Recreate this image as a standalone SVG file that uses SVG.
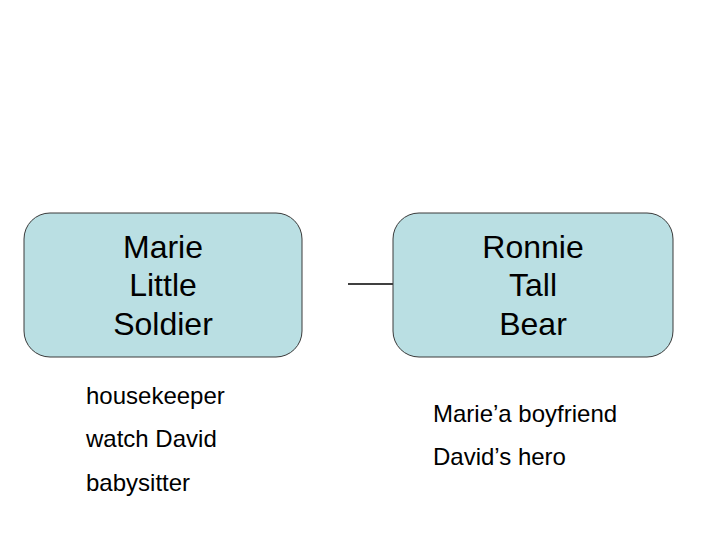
<svg xmlns="http://www.w3.org/2000/svg" width="720" height="540" viewBox="0 0 720 540">
<style>
.box{fill:#BADFE3;stroke:#3a3a3a;stroke-width:1}
.t{font-family:"Liberation Sans",Arial,sans-serif;fill:#000}
.big{font-size:32px;text-anchor:middle}
.small{font-size:24px}
.conn{stroke:#000;stroke-width:1.5;fill:none}
</style>
<rect width="720" height="540" fill="#fff"/>
<g id="connectors">
<line class="conn" x1="348" y1="284" x2="393" y2="284"/>
</g>
<g id="marie">
<rect class="box" x="24" y="213" width="278" height="144" rx="26" ry="26"/>
<text class="t big" x="163" y="258">Marie</text>
<text class="t big" x="163" y="296">Little</text>
<text class="t big" x="163" y="335">Soldier</text>
</g>
<g id="ronnie">
<rect class="box" x="393" y="213" width="280" height="144" rx="26" ry="26"/>
<text class="t big" x="533" y="258">Ronnie</text>
<text class="t big" x="533" y="296">Tall</text>
<text class="t big" x="533" y="335">Bear</text>
</g>
<g id="marie-notes">
<text class="t small" x="86" y="404">housekeeper</text>
<text class="t small" x="86" y="447">watch David</text>
<text class="t small" x="86" y="491">babysitter</text>
</g>
<g id="ronnie-notes">
<text class="t small" x="433" y="422">Marie’a boyfriend</text>
<text class="t small" x="433" y="465">David’s hero</text>
</g>
</svg>
